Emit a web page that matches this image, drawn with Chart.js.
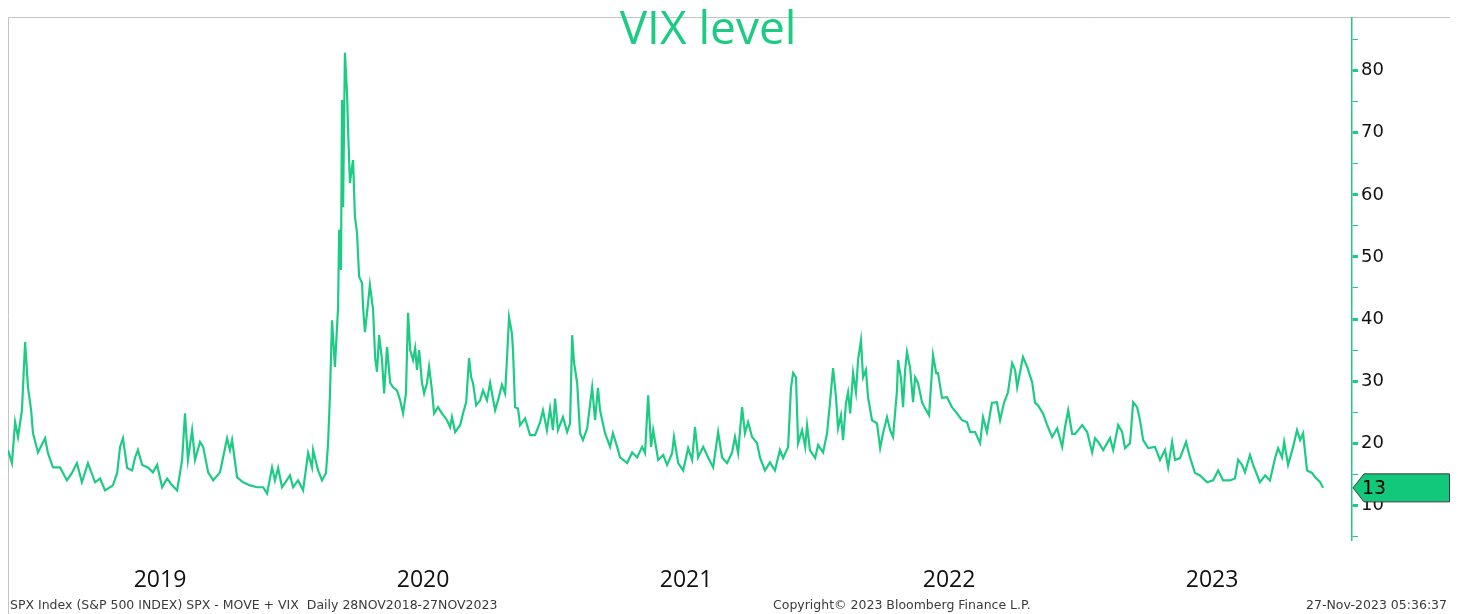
<!DOCTYPE html>
<html>
<head>
<meta charset="utf-8">
<script src="https://cdn.jsdelivr.net/npm/chart.js@4/dist/chart.umd.min.js"></script>
<style>
  body { margin: 0; background: #fff; }
  canvas { display: block; }
</style>
</head>
<body>
<canvas id="vixChart" width="1460" height="614"></canvas>
<script>
// dates as decimal years
const tradeDates = [
  2018.922, 2018.937, 2018.949, 2018.960, 2018.975, 2018.987, 2018.998, 2019.010, 2019.017, 2019.036,
  2019.063, 2019.074, 2019.093, 2019.120, 2019.146, 2019.165, 2019.184, 2019.203, 2019.226, 2019.253,
  2019.272, 2019.291, 2019.321, 2019.337, 2019.348, 2019.359, 2019.375, 2019.394, 2019.405, 2019.416,
  2019.432, 2019.454, 2019.473, 2019.489, 2019.508, 2019.527, 2019.546, 2019.565, 2019.584, 2019.595,
  2019.606, 2019.622, 2019.633, 2019.652, 2019.664, 2019.683, 2019.702, 2019.728, 2019.755, 2019.766,
  2019.774, 2019.793, 2019.816, 2019.842, 2019.869, 2019.892, 2019.907, 2019.926, 2019.937, 2019.949,
  2019.964, 2019.994, 2020.006, 2020.025, 2020.044, 2020.063, 2020.078, 2020.082, 2020.101, 2020.116,
  2020.131, 2020.139, 2020.146, 2020.154, 2020.165, 2020.177, 2020.181, 2020.188, 2020.192, 2020.196,
  2020.203, 2020.211, 2020.215, 2020.222, 2020.230, 2020.234, 2020.241, 2020.249, 2020.257, 2020.268,
  2020.272, 2020.279, 2020.287, 2020.298, 2020.310, 2020.318, 2020.325, 2020.333, 2020.344, 2020.352,
  2020.363, 2020.375, 2020.386, 2020.401, 2020.413, 2020.424, 2020.435, 2020.443, 2020.451, 2020.462,
  2020.470, 2020.477, 2020.485, 2020.496, 2020.504, 2020.515, 2020.523, 2020.534, 2020.542, 2020.557,
  2020.572, 2020.591, 2020.603, 2020.610, 2020.622, 2020.641, 2020.652, 2020.664, 2020.675, 2020.683,
  2020.690, 2020.702, 2020.717, 2020.728, 2020.743, 2020.755, 2020.774, 2020.785, 2020.800, 2020.812,
  2020.819, 2020.827, 2020.838, 2020.842, 2020.850, 2020.861, 2020.869, 2020.888, 2020.907, 2020.926,
  2020.945, 2020.956, 2020.971, 2020.983, 2020.994, 2021.002, 2021.013, 2021.032, 2021.048, 2021.059,
  2021.067, 2021.074, 2021.086, 2021.097, 2021.108, 2021.124, 2021.143, 2021.154, 2021.165, 2021.173,
  2021.192, 2021.211, 2021.222, 2021.238, 2021.249, 2021.276, 2021.295, 2021.314, 2021.333, 2021.344,
  2021.356, 2021.367, 2021.375, 2021.394, 2021.413, 2021.428, 2021.447, 2021.454, 2021.470, 2021.489,
  2021.508, 2021.523, 2021.534, 2021.546, 2021.565, 2021.584, 2021.603, 2021.622, 2021.637, 2021.656,
  2021.675, 2021.686, 2021.698, 2021.713, 2021.724, 2021.736, 2021.751, 2021.770, 2021.781, 2021.800,
  2021.819, 2021.838, 2021.857, 2021.869, 2021.888, 2021.899, 2021.907, 2021.918, 2021.926, 2021.941,
  2021.953, 2021.960, 2021.971, 2021.991, 2022.002, 2022.021, 2022.036, 2022.048, 2022.059, 2022.070,
  2022.078, 2022.089, 2022.097, 2022.108, 2022.116, 2022.124, 2022.135, 2022.146, 2022.154, 2022.165,
  2022.173, 2022.184, 2022.192, 2022.207, 2022.226, 2022.238, 2022.249, 2022.264, 2022.276, 2022.287,
  2022.302, 2022.306, 2022.318, 2022.325, 2022.333, 2022.340, 2022.352, 2022.363, 2022.371, 2022.382,
  2022.397, 2022.409, 2022.424, 2022.439, 2022.451, 2022.458, 2022.473, 2022.492, 2022.511, 2022.530,
  2022.549, 2022.568, 2022.580, 2022.599, 2022.618, 2022.629, 2022.644, 2022.663, 2022.682, 2022.694,
  2022.709, 2022.724, 2022.740, 2022.751, 2022.759, 2022.781, 2022.797, 2022.816, 2022.827, 2022.838,
  2022.857, 2022.873, 2022.892, 2022.911, 2022.930, 2022.941, 2022.953, 2022.968, 2022.979, 2022.991,
  2023.006, 2023.025, 2023.044, 2023.055, 2023.067, 2023.086, 2023.101, 2023.112, 2023.124, 2023.143,
  2023.158, 2023.169, 2023.188, 2023.200, 2023.215, 2023.226, 2023.238, 2023.257, 2023.283, 2023.302,
  2023.321, 2023.333, 2023.348, 2023.359, 2023.378, 2023.401, 2023.416, 2023.435, 2023.454, 2023.481,
  2023.504, 2023.523, 2023.542, 2023.568, 2023.587, 2023.599, 2023.614, 2023.625, 2023.644, 2023.656,
  2023.682, 2023.702, 2023.720, 2023.740, 2023.751, 2023.766, 2023.774, 2023.789, 2023.808, 2023.823,
  2023.835, 2023.846, 2023.861, 2023.880, 2023.892, 2023.911, 2023.922
];

const vixLevel = [
  18.9, 16.8, 23.4, 21, 25.3, 36.3, 29, 25.3, 21.6, 18.5,
  20.8, 18.4, 16.1, 16.1, 14, 15.2, 16.8, 13.7, 16.8, 13.7,
  14.3, 12.4, 13.2, 15.2, 19.4, 20.8, 16, 15.6, 17.7, 18.9,
  16.5, 16.1, 15.3, 16.5, 12.9, 14.3, 13.2, 12.4, 17.3, 24.8,
  17.3, 22.1, 17.3, 20.2, 19.4, 15.3, 14, 15.3, 20.8, 18.9,
  20.5, 14.5, 13.7, 13.2, 12.9, 12.9, 11.9, 16.1, 14, 16,
  12.9, 14.8, 12.9, 14, 12.4, 18.4, 16.1, 18.9, 15.6, 14,
  15.2, 20, 27.7, 39.8, 32.3, 41.9, 54.4, 47.9, 75.3, 58,
  82.9, 76.5, 70.5, 61.9, 64.5, 65.6, 56.5, 53.9, 46.8, 45.8,
  41.9, 37.9, 41, 45.5, 41.5, 33.7, 31.5, 37.4, 33.4, 28,
  35.5, 29.7, 29, 28.5, 26.9, 24.8, 28, 41, 35, 33.4,
  35.3, 31.8, 35, 29.7, 28, 29.7, 32.3, 28.5, 24.8, 25.8,
  24.8, 23.7, 22.6, 24.2, 21.8, 22.9, 24.8, 26.6, 33.7, 30.6,
  29.7, 26.1, 26.9, 28.5, 26.9, 29.7, 25.3, 26.9, 29.4, 28,
  33.4, 40.3, 37.7, 35, 25.8, 25.6, 22.9, 24, 21.3, 21.3,
  23.4, 25.3, 22.1, 25.6, 22.1, 27.2, 22.1, 24.2, 21.8, 23.2,
  37.4, 33, 29.7, 21.6, 20.5, 22.4, 29, 23.7, 28.9, 25.3,
  21.6, 19.4, 21.6, 19.4, 17.7, 16.8, 18.5, 17.7, 19.4, 18.4,
  27.7, 19.4, 22.1, 17.3, 18.1, 16.5, 18.4, 21, 16.8, 15.6,
  19.2, 17.3, 22.6, 17.7, 19.4, 17.7, 16.1, 21.8, 17.7, 16.8,
  18.5, 21, 18.4, 25.8, 21.6, 23.4, 21, 20, 17.7, 15.6,
  16.9, 15.6, 18.9, 17.6, 19.4, 28.9, 31.3, 30.6, 20, 22.1,
  19.4, 22.9, 18.9, 17.6, 19.7, 18.5, 21.6, 26.9, 32.1, 27.4,
  22.4, 24.5, 20.5, 26.5, 28.2, 24.8, 31.3, 28.2, 33.4, 36.6,
  30.6, 31.8, 27.4, 23.7, 23.2, 19.2, 21.6, 24.2, 22.1, 21,
  28.5, 33.4, 30.2, 25.8, 31.8, 34.7, 32.1, 26.6, 30.6, 29.7,
  26.6, 25.6, 24.5, 34.2, 31.3, 31.3, 27.3, 27.4, 25.8, 24.8,
  23.7, 23.4, 21.8, 21.8, 20, 24.2, 21.8, 26.5, 26.6, 23.7,
  26.5, 28.2, 32.9, 31.8, 29, 33.9, 32.3, 29.8, 26.5, 26.1,
  24.8, 22.9, 21, 22.4, 19.4, 22.6, 25.3, 21.5, 21.5, 22.1,
  22.9, 21.8, 18.5, 20.8, 20.2, 18.9, 20, 20.8, 18.9, 22.9,
  21.8, 19.2, 20, 26.6, 25.8, 23.7, 20.5, 19.2, 19.4, 17.3,
  18.9, 16.1, 20.2, 17.3, 17.6, 20.2, 17.7, 15.2, 14.8, 13.7,
  14, 15.6, 14, 14, 14.3, 17.3, 16.5, 15.3, 18.1, 16.5,
  13.7, 14.8, 14, 17.7, 19.2, 17.7, 20.2, 16.5, 19.4, 22.1,
  20.5, 21.6, 15.6, 15.2, 14.5, 13.7, 12.8
];

const yearLabels = ['2019', '2020', '2021', '2022', '2023'];
const vixTicks = [5, 10, 15, 20, 25, 30, 35, 40, 45, 50, 55, 60, 65, 70, 75, 80, 85];

const chartTitle = 'VIX level';
const footLeft = 'SPX Index (S&P 500 INDEX) SPX - MOVE + VIX  Daily 28NOV2018-27NOV2023';
const footMid = 'Copyright\u00a9 2023 Bloomberg Finance L.P.';
const footRight = '27-Nov-2023 05:36:37';

const GREEN = '#1ecb84';

document.addEventListener("DOMContentLoaded", () => {

    const ctx = document.getElementById('vixChart').getContext('2d');

    // frame, title, footer and the last-value tag
    const decorations = {
        id: 'decorations',
        beforeDraw(chart) {
            const c = chart.ctx;
            c.save();
            c.strokeStyle = '#c4c4c4';
            c.lineWidth = 1;
            c.beginPath();
            c.moveTo(8.5, 614);
            c.lineTo(8.5, 17.5);
            c.lineTo(1450, 17.5);
            c.stroke();
            c.restore();
        },
        afterDraw(chart) {
            const c = chart.ctx;
            const yScale = chart.scales.y;
            c.save();

            // title sits over the top frame line
            c.font = '46px "Open Sans"';
            c.fillStyle = GREEN;
            c.textAlign = 'center';
            c.textBaseline = 'alphabetic';
            c.fillText(chartTitle, 708, 44);

            // footer
            c.font = '12.5px "DejaVu Sans"';
            c.fillStyle = '#3a3a3a';
            c.textAlign = 'left';
            c.fillText(footLeft, 10, 609);
            c.fillText(footMid, 773, 609);
            c.textAlign = 'right';
            c.fillText(footRight, 1447, 609);

            // last value tag
            const last = vixLevel[vixLevel.length - 1];
            const y = yScale.getPixelForValue(last);
            const x0 = yScale.left;
            c.beginPath();
            c.moveTo(x0 + 1, y);
            c.lineTo(x0 + 12, y - 14);
            c.lineTo(1449.5, y - 14);
            c.lineTo(1449.5, y + 14);
            c.lineTo(x0 + 12, y + 14);
            c.closePath();
            c.fillStyle = '#12c97b';
            c.fill();
            c.strokeStyle = '#3c3c3c';
            c.lineWidth = 1;
            c.stroke();
            c.font = '19px "DejaVu Sans"';
            c.fillStyle = '#000';
            c.textAlign = 'left';
            c.textBaseline = 'middle';
            c.fillText(String(Math.round(last)), x0 + 10, y + 1);
            c.restore();
        }
    };

    const data = {
        datasets: [
        {
            label: 'VIX',
            data: tradeDates.map((d, i) => ({ x: d, y: vixLevel[i] })),
            borderColor: GREEN,
            borderWidth: 2.2,
            pointRadius: 0,
            tension: 0,
            fill: false,
        }
        ]
    };

    const config = {
        type: 'line',
        data: data,
        options: {
            responsive: false,
            animation: false,
            layout: {
                padding: { left: 8, top: 18, right: 0, bottom: 0 }
            },
            plugins: {
                legend: { display: false },
                tooltip: { enabled: false },
            },
            scales: {
                x: {
                    type: 'linear',
                    min: 2018.922,
                    max: 2024.032,
                    afterBuildTicks: (scale) => {
                        scale.ticks = yearLabels.map(y => ({ value: Number(y) + 0.5 }));
                    },
                    afterFit: (scale) => { scale.height = 74; },
                    grid: { display: false, drawTicks: false },
                    border: { display: false },
                    ticks: {
                        autoSkip: false,
                        maxRotation: 0,
                        padding: 27,
                        color: '#111',
                        font: { family: 'Open Sans', size: 23 },
                        callback: (value) => String(Math.floor(value)),
                    }
                },
                y: {
                    type: 'linear',
                    position: 'right',
                    min: 4.4,
                    max: 88.5,
                    afterBuildTicks: (scale) => {
                        scale.ticks = vixTicks.map(v => ({ value: v }));
                    },
                    afterFit: (scale) => { scale.width = 108; },
                    border: { display: true, color: GREEN, width: 1.5 },
                    grid: {
                        drawOnChartArea: false,
                        drawTicks: true,
                        tickLength: 6,
                        tickColor: GREEN,
                        tickWidth: (c) => (c.tick && c.tick.value % 10 === 0 ? 3 : 1),
                    },
                    ticks: {
                        padding: 3,
                        color: '#111',
                        font: { family: 'DejaVu Sans', size: 18 },
                        callback: (value) => (value % 10 === 0 ? String(value) : ''),
                    }
                }
            }
        },
        plugins: [decorations]
    };

    const vixChart = new Chart(ctx, config);

})
</script>
</body>
</html>
